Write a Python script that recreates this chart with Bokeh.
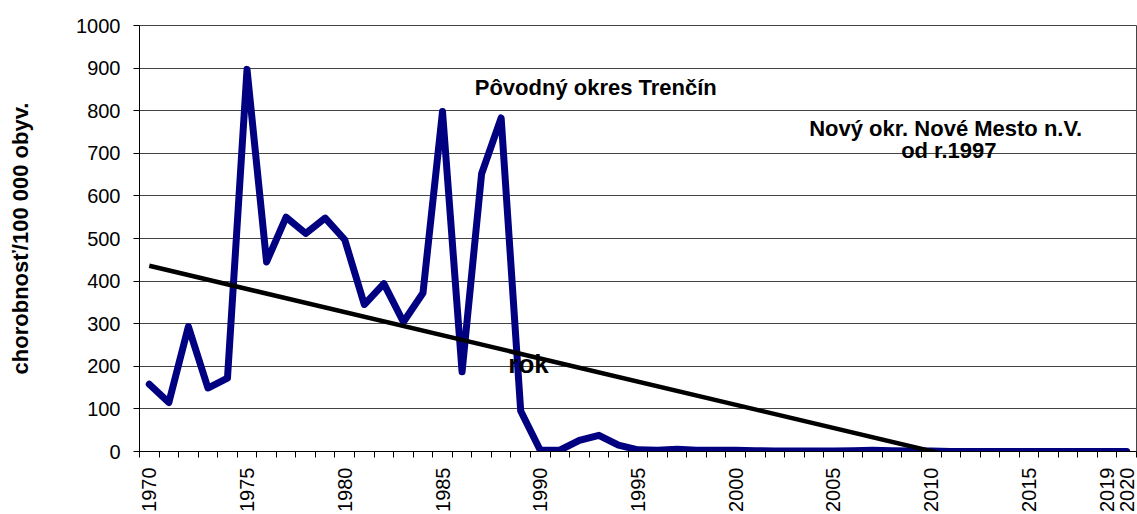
import math
from bokeh.plotting import figure
from bokeh.models import Range1d, FixedTicker
from bokeh.core.properties import value
from bokeh.embed import file_html
from bokeh.resources import INLINE

# ---- data ----
years = list(range(1970, 2021))
values = [158, 115, 293, 149, 172, 897, 445, 550, 512, 548,
          497, 345, 394, 304, 372, 798, 187, 652, 783, 95,
          3, 3, 26, 38, 15, 4, 3, 5, 3, 3,
          3, 2, 1, 1, 1, 1, 2, 3, 2, 1,
          1, 0, 0, 0, 0, 0, 0, 0, 0, 0,
          0]
trend_years = [1970, 2020]
trend_values = [436, -108]
x_tick_labels = [1970, 1975, 1980, 1985, 1990, 1995, 2000, 2005, 2010, 2015, 2019, 2020]
y_ticks = [0, 100, 200, 300, 400, 500, 600, 700, 800, 900, 1000]
annotations = [
    ("Pôvodný okres Trenčín", 1992.84, 855, 22),
    ("Nový okr. Nové Mesto n.V.", 2010.74, 759, 22),
    ("od r.1997", 2010.9, 706, 22),
    ("rok", 1989.4, 206, 26),
]

FONT = "Liberation Sans"

p = figure(width=1137, height=514, output_backend="svg", toolbar_location=None,
           x_range=Range1d(1969.5, 2020.5), y_range=Range1d(0, 1000),
           min_border_left=139, min_border_right=1, min_border_top=25, min_border_bottom=62)
p.background_fill_color = "white"
p.border_fill_color = "white"
p.outline_line_color = "#444444"
p.outline_line_width = 1

# x axis
xa = p.xaxis[0]
xa.ticker = FixedTicker(ticks=x_tick_labels,
                        minor_ticks=[y - 0.5 for y in years] + [2020.5])
xa.major_tick_line_color = None
xa.major_tick_out = 0
xa.major_tick_in = 0
xa.minor_tick_line_color = "black"
xa.minor_tick_out = 6
xa.minor_tick_in = 0
xa.axis_line_color = "black"
xa.major_label_orientation = math.pi / 2
xa.major_label_text_font = FONT
xa.major_label_text_font_size = "20px"
xa.major_label_text_color = "black"
xa.major_label_standoff = 10

# y axis
ya = p.yaxis[0]
ya.ticker = FixedTicker(ticks=y_ticks, minor_ticks=[])
ya.major_tick_out = 6
ya.major_tick_in = 0
ya.major_tick_line_color = "black"
ya.axis_line_color = "black"
ya.major_label_text_font = FONT
ya.major_label_text_font_size = "20px"
ya.major_label_text_color = "black"
ya.major_label_standoff = 13
ya.axis_label = "chorobnosť/100 000 obyv."
ya.axis_label_text_font = FONT
ya.axis_label_text_font_style = "bold"
ya.axis_label_text_font_size = "22px"
ya.axis_label_text_color = "black"
ya.axis_label_standoff = 40

p.xgrid.grid_line_color = None
p.ygrid.grid_line_color = "#444444"
p.ygrid.grid_line_width = 1

# data line
p.line(years, values, line_color="#000080", line_width=7,
       line_join="round", line_cap="round")
# trend line
p.line(trend_years, trend_values, line_color="black", line_width=4.5)

for txt, x, y, fs in annotations:
    p.text(x=[x], y=[y], text=[txt], text_font=value(FONT), text_font_style="bold",
           text_font_size=f"{fs}px", text_align="center", text_baseline="middle",
           text_color="black")

open("out.html", "w").write(file_html(p, INLINE))
